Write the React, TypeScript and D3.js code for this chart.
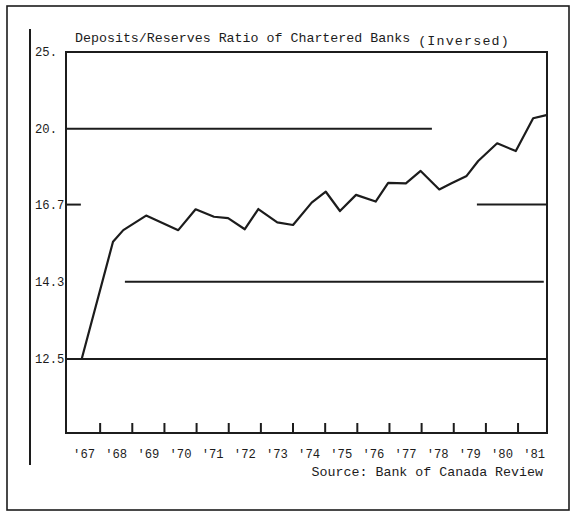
import React from "react";
import * as d3 from "d3";

// Data: time (decimal years) and deposits/reserves ratio
const seriesYears = [
  1967.43, 1968.4, 1968.72, 1969.43, 1970.43, 1970.97, 1971.54, 1971.98, 1972.5, 1972.92,
  1973.51, 1974.0, 1974.58, 1975.02, 1975.46, 1975.96, 1976.57, 1976.96, 1977.51, 1977.97,
  1978.55, 1978.93, 1979.4, 1979.76, 1980.35, 1980.93, 1981.47, 1981.88,
];
const seriesValues = [
  12.51, 15.45, 15.82, 16.31, 15.82, 16.53, 16.27, 16.22, 15.85, 16.54,
  16.08, 15.99, 16.77, 17.18, 16.47, 17.06, 16.81, 17.53, 17.51, 18.02,
  17.27, 17.51, 17.81, 18.45, 19.27, 18.9, 20.56, 20.74,
];

const yTickValues = [25, 20, 16.7, 14.3, 12.5];
const yTickLabels = ["25.", "20.", "16.7", "14.3", "12.5"];

const xYears = [1967, 1968, 1969, 1970, 1971, 1972, 1973, 1974, 1975, 1976, 1977, 1978, 1979, 1980, 1981];
const xLabels = ["'67", "'68", "'69", "'70", "'71", "'72", "'73", "'74", "'75", "'76", "'77", "'78", "'79", "'80", "'81"];

// Reference level lines
const refValues = [20, 16.7, 16.7, 14.3, 12.5];
const refStart = [1966.94, 1966.94, 1979.72, 1968.77, 1966.94];
const refEnd = [1978.32, 1967.4, 1981.9, 1981.8, 1981.9];

const titleMain = "Deposits/Reserves Ratio of Chartered Banks ";
const titleSuffix = "(Inversed)";
const sourceText = "Source: Bank of Canada Review";

const W = 571;
const H = 512;
const INK = "#1c1c1c";
const FONT = "'Liberation Mono', 'DejaVu Sans Mono', monospace";

export default function App() {
  const boxL = 66, boxR = 547, boxT = 52, boxB = 433;
  const x = d3.scaleLinear().domain([1967, 1982]).range([68, 550.2]);
  // inversed scale: linear in reserves/deposits
  const yr = d3.scaleLinear().domain([0.04, 0.08]).range([52, 359]);
  const y = (v: number) => yr(1 / v);

  const pts: [number, number][] = seriesYears.map((t, i) => [t, seriesValues[i]]);
  const line = d3
    .line<[number, number]>()
    .x((d) => x(d[0]))
    .y((d) => y(d[1]));

  const tickYears = xYears.slice(1);

  return (
    <svg
      width={W}
      height={H}
      style={{ position: "absolute", left: 0, top: 0, background: "#fff" }}
      fontFamily={FONT}
    >
      <rect x={0} y={0} width={W} height={H} fill="#fff" />
      {/* outer frame */}
      <rect x={7} y={6} width={562} height={504} fill="none" stroke={INK} strokeWidth={1.6} />
      {/* inner vertical rule */}
      <line x1={30} y1={29} x2={30} y2={465} stroke={INK} strokeWidth={2} />

      {/* title */}
      <text x={75} y={42} fontSize={13.3} fill={INK}>
        {titleMain}
        <tspan dy={3} letterSpacing={1.2}>{titleSuffix}</tspan>
      </text>

      {/* plot box */}
      <path
        d={`M${boxL},${boxT} L${boxR},${boxT} L${boxR},${boxB} L${boxL},${boxB} Z`}
        fill="none"
        stroke={INK}
        strokeWidth={2}
      />

      {/* y tick labels */}
      {yTickValues.map((v, i) => (
        <text key={i} x={35} y={y(v)} dy="0.35em" fontSize={12.2} fill={INK}>
          {yTickLabels[i]}
        </text>
      ))}

      {/* reference lines */}
      {refValues.map((v, i) => (
        <line
          key={i}
          x1={x(refStart[i])}
          x2={x(refEnd[i])}
          y1={y(v)}
          y2={y(v)}
          stroke={INK}
          strokeWidth={2}
        />
      ))}

      {/* x ticks */}
      {tickYears.map((t) => (
        <line key={t} x1={x(t)} x2={x(t)} y1={boxB} y2={boxB - 10} stroke={INK} strokeWidth={2} />
      ))}
      {xYears.map((t, i) => (
        <text key={t} x={x(t + 0.5)} y={458} textAnchor="middle" fontSize={12.2} fill={INK}>
          {xLabels[i]}
        </text>
      ))}

      {/* data line */}
      <path d={line(pts) ?? ""} fill="none" stroke={INK} strokeWidth={2.2} strokeLinejoin="round" />

      {/* source */}
      <text x={543} y={476} textAnchor="end" fontSize={13.3} fill={INK}>
        {sourceText}
      </text>
    </svg>
  );
}
